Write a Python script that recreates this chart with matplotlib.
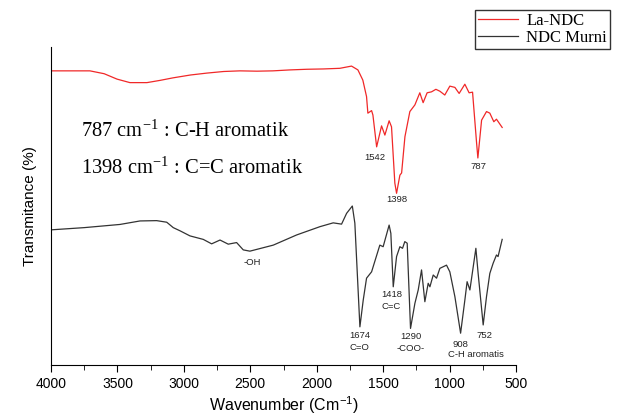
import matplotlib
matplotlib.use("Agg")
import matplotlib.pyplot as plt
from matplotlib.ticker import MultipleLocator

# La-NDC spectrum (wavenumber, transmittance)
la_wn = [4000, 3707, 3600, 3503, 3406, 3278, 3180, 3082, 2950, 2826, 2700, 2578, 2450, 2330,
         2200, 2074, 1950, 1826, 1738, 1690, 1653, 1625, 1615, 1587, 1577, 1549, 1512,
         1487, 1455, 1437, 1412, 1399, 1374, 1361, 1336, 1299, 1261, 1224, 1199, 1169,
         1136, 1103, 1073, 1036, 998, 960, 928, 885, 853, 827, 797, 787, 759, 722, 697,
         667, 647, 604]
la_t = [92.5, 92.5, 91.6, 89.9, 88.8, 88.8, 89.5, 90.3, 91.2, 91.8, 92.3, 92.5, 92.4, 92.5,
        92.8, 93.0, 93.1, 93.3, 94.0, 92.8, 89.6, 84.4, 79.2, 80.0, 78.6, 68.6, 75.2,
        72.3, 76.8, 74.9, 57.2, 54.0, 59.7, 60.4, 71.8, 79.7, 81.8, 85.6, 82.5, 85.6,
        85.9, 86.7, 86.1, 84.9, 87.7, 87.3, 85.4, 88.3, 85.6, 85.8, 70.0, 65.1, 77.0, 79.7, 79.2,
        76.5, 77.3, 74.7]

# NDC Murni spectrum
ndc_wn = [4000, 3750, 3481, 3330, 3205, 3129, 3080, 3029, 2954, 2854, 2791, 2728, 2666,
          2603, 2553, 2503, 2327, 2151, 1976, 1876, 1813, 1775, 1732, 1713, 1675, 1650,
          1625, 1587, 1525, 1500, 1455, 1442, 1424, 1399, 1374, 1354, 1337, 1319, 1294,
          1261, 1236, 1211, 1186, 1161, 1148, 1123, 1098, 1073, 1023, 998, 960, 917,
          885, 868, 847, 802, 785, 747, 722, 697, 672, 647, 635, 604]
ndc_t = [42.5, 43.2, 44.2, 45.3, 45.4, 44.9, 43.2, 42.2, 40.6, 39.5, 38.1, 39.3, 38.0,
         38.5, 36.2, 35.8, 37.7, 40.9, 43.5, 44.7, 44.3, 47.7, 50.0, 44.6, 12.0, 20.4,
         27.3, 29.3, 37.7, 37.2, 44.0, 41.4, 24.6, 34.1, 37.2, 36.7, 38.8, 38.3, 11.5,
         19.4, 23.6, 29.9, 19.9, 25.7, 24.6, 28.3, 27.3, 30.4, 31.4, 29.3, 21.5, 10.0,
         20.4, 26.2, 23.6, 36.7, 28.8, 12.6, 21.5, 28.8, 32.0, 34.6, 34.1, 39.5]

# peak labels: (text, wavenumber, transmittance)
red_labels = [("1542", 1562, 65.4), ("1398", 1397, 51.9), ("787", 780, 62.3)]
black_labels = [("-OH", 2488, 32.1), ("1418\nC=C", 1437, 20.3),
                ("1674\nC=O", 1675, 7.4), ("1290\n-COO-", 1291, 7.1),
                ("908", 917, 6.6), ("C-H aromatis", 802, 3.4), ("752", 740, 9.4)]

plt.rcParams['mathtext.fontset'] = 'stix'

fig = plt.figure(figsize=(6.17, 4.16), dpi=100)
ax = fig.add_axes([0.0827, 0.1226, 0.7536, 0.7644])

ax.plot(la_wn, la_t, color="#f02828", lw=0.9, label="La-NDC")
ax.plot(ndc_wn, ndc_t, color="#333333", lw=0.9, label="NDC Murni")

for txt, x, y in red_labels + black_labels:
    ax.text(x, y, txt, fontsize=6.8, family="Liberation Sans", color="#222222",
            ha="center", va="center", linespacing=1.5)

ax.text(3775, 73.5, r"787 cm$^{\mathregular{-1}}$ : C-H aromatik", fontsize=14.8,
        family="Liberation Serif", va="center")
ax.text(3775, 62.0, r"1398 cm$^{\mathregular{-1}}$ : C=C aromatik", fontsize=14.8,
        family="Liberation Serif", va="center")

ax.set_xlim(4000, 500)
ax.set_ylim(0, 100)
ax.xaxis.set_major_locator(MultipleLocator(500))
ax.xaxis.set_minor_locator(MultipleLocator(250))
ax.tick_params(axis='x', which='major', direction='out', length=5, labelsize=10)
ax.tick_params(axis='x', which='minor', direction='out', length=3.5)
for lab in ax.get_xticklabels():
    lab.set_family("Liberation Sans")
ax.set_yticks([])
ax.spines['top'].set_visible(False)
ax.spines['right'].set_visible(False)

ax.set_xlabel(r"Wavenumber (Cm$^{\mathregular{-1}}$)", fontsize=11.5, family="Liberation Sans",
              labelpad=2)
ax.set_ylabel("Transmitance (%)", fontsize=11, family="Liberation Sans", labelpad=10)

leg = ax.legend(loc="upper right", bbox_to_anchor=(0.989, 0.976), bbox_transform=fig.transFigure,
                prop={'family': 'Liberation Serif', 'size': 12}, frameon=True, fancybox=False,
                handlelength=2.4, borderpad=0.2, labelspacing=0.05, handletextpad=0.5,
                borderaxespad=0)
leg.get_frame().set_edgecolor("black")
leg.get_frame().set_linewidth(1.0)

fig.savefig("out.png", dpi=100)
